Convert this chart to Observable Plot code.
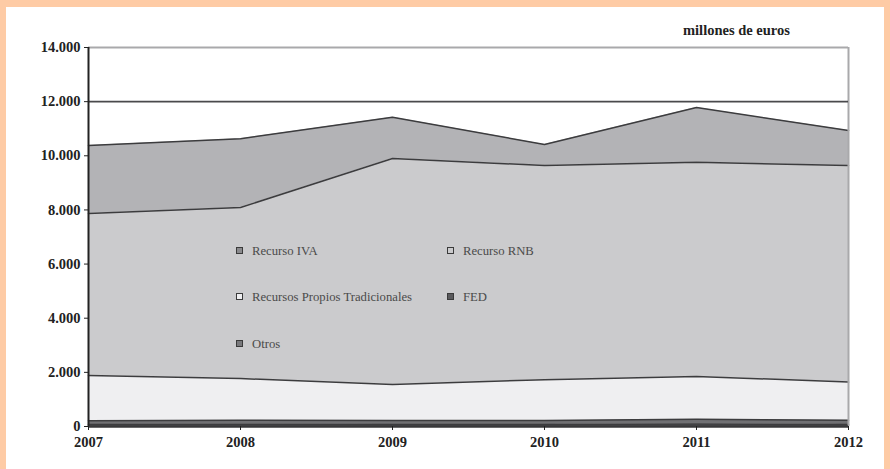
<!DOCTYPE html>
<html><head><meta charset="utf-8">
<script src="https://cdn.jsdelivr.net/npm/d3@7"></script>
<script src="https://cdn.jsdelivr.net/npm/@observablehq/plot@0.6"></script>
<style>
html,body{margin:0;padding:0}
body{background:#fecba5;width:890px;height:469px;overflow:hidden;position:relative;font-family:"Liberation Serif","Times New Roman",serif}
#panel{position:absolute;left:6px;top:7px;width:878px;height:462px;background:#fff}
#chart{position:absolute;left:0;top:0}
#unit{position:absolute;left:683px;top:21px;font-size:14.5px;font-weight:bold;color:#222;white-space:nowrap;line-height:18px}
.mk{position:absolute;width:5px;height:5px;border:1.5px solid #3a3a3a}
.lt{position:absolute;font-size:12.7px;color:#4a4a4a;white-space:nowrap;line-height:14px}
</style></head>
<body>
<div id="panel"></div>
<div id="chart"></div>
<div id="unit">millones de euros</div>
<div id="legend"></div>
<script>
const years = [2007, 2008, 2009, 2010, 2011, 2012];
const iva   = [2510, 2540, 1520, 780, 2020, 1290];
const rnb   = [5990, 6320, 8350, 7910, 7910, 8000];
const rpt   = [1670, 1540, 1330, 1510, 1580, 1410];
const fed   = [140, 150, 150, 150, 180, 160];
const otros = [70, 80, 70, 70, 90, 70];

const seriesNames = ["Otros", "FED", "Recursos Propios Tradicionales", "Recurso RNB", "Recurso IVA"];
const seriesValues = [otros, fed, rpt, rnb, iva];
const seriesColors = ["#58585b", "#707073", "#efeff1", "#cbcbcd", "#b3b3b6"];
const yTicks = [0, 2000, 4000, 6000, 8000, 10000, 12000, 14000];

const table = [];
seriesNames.forEach((s, i) => years.forEach((y, j) => table.push({year: y, serie: s, value: seriesValues[i][j]})));

const fmt = d3.formatLocale({decimal: ",", thousands: ".", grouping: [3], currency: ["", ""]}).format(",");

const chart = Plot.plot({
  width: 890, height: 469,
  marginLeft: 88, marginRight: 42, marginTop: 47, marginBottom: 43,
  style: {fontFamily: "Liberation Serif, serif", fontSize: "14.5px", background: "transparent"},
  x: {domain: [2007, 2012], axis: null},
  y: {domain: [0, 14000], axis: null},
  color: {domain: seriesNames, range: seriesColors},
  marks: [
    Plot.areaY(table, {x: "year", y: "value", z: "serie", fill: "serie", order: seriesNames}),
    Plot.lineY(table, Plot.stackY2({x: "year", y: "value", z: "serie", order: seriesNames, stroke: "#3c3c3e", strokeWidth: 1.5})),
    Plot.ruleY([14000], {stroke: "#a9a9ab", strokeWidth: 2}),
    Plot.ruleX([2012], {stroke: "#a9a9ab", strokeWidth: 2}),
    Plot.ruleY([12000], {stroke: "#4a4a4c", strokeWidth: 1.8}),
    Plot.ruleY([0], {stroke: "#38383a", strokeWidth: 2.5}),
    Plot.ruleX([2007], {stroke: "#222", strokeWidth: 2}),
    Plot.axisY({ticks: yTicks, tickFormat: fmt, tickSize: 4, tickPadding: 4, fontWeight: "bold", stroke: "#222", fill: "#222", label: null}),
    Plot.axisX({ticks: years, tickFormat: d => String(d), tickSize: 4, tickPadding: 6, fontWeight: "bold", stroke: "#222", fill: "#222", label: null})
  ]
});
document.getElementById("chart").appendChild(chart);

const legendItems = [
  {name: "Recurso IVA", left: 236, top: 247, fill: "#8a8a8d"},
  {name: "Recurso RNB", left: 447, top: 247, fill: "#cbcbcd"},
  {name: "Recursos Propios Tradicionales", left: 236, top: 293, fill: "#efeff1"},
  {name: "FED", left: 447, top: 293, fill: "#5a5a5d"},
  {name: "Otros", left: 236, top: 340, fill: "#79797c"}
];
const leg = document.getElementById("legend");
legendItems.forEach(it => {
  const m = document.createElement("div");
  m.className = "mk";
  m.style.left = it.left + "px"; m.style.top = it.top + "px"; m.style.background = it.fill;
  leg.appendChild(m);
  const t = document.createElement("div");
  t.className = "lt";
  t.textContent = it.name;
  t.style.left = (it.left + 16) + "px"; t.style.top = (it.top - 3) + "px";
  leg.appendChild(t);
});
</script>
</body></html>
